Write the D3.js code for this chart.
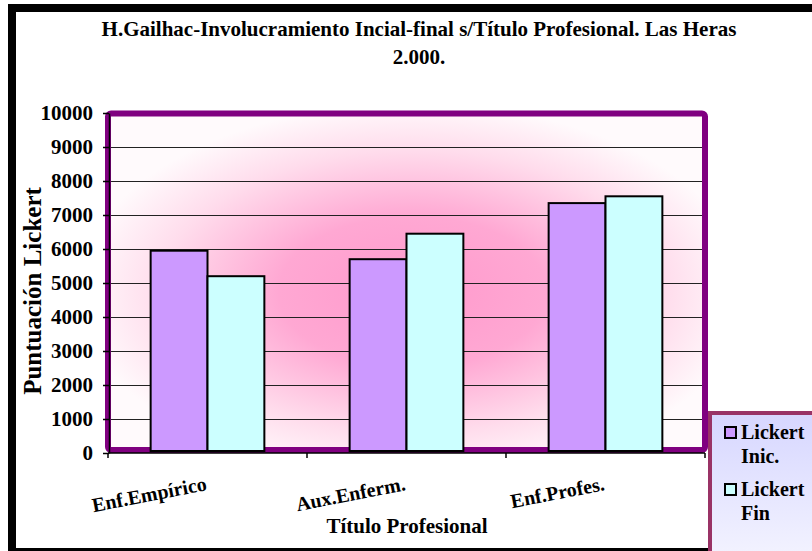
<!DOCTYPE html>
<html>
<head>
<meta charset="utf-8">
<script src="https://cdn.jsdelivr.net/npm/d3@7"></script>
<style>
  body { margin: 0; background: #fff; }
  text { font-family: "Liberation Serif", "Times New Roman", serif; font-weight: bold; fill: #000; }
</style>
</head>
<body>
<div id="vis1"></div>
<script>
const FRAME_WIDTH = 812;
const FRAME_HEIGHT = 551;

// data
const CATEGORIES = ["Enf.Empírico", "Aux.Enferm.", "Enf.Profes."];
const SERIES = ["Lickert Inic.", "Lickert Fin"];
const LICKERT_INIC = [5950, 5700, 7350];
const LICKERT_FIN = [5200, 6450, 7550];
const Y_TICKS = [0, 1000, 2000, 3000, 4000, 5000, 6000, 7000, 8000, 9000, 10000];
const COLORS = ["#cc99ff", "#ccffff"];

const PLOT = {left: 108, right: 705, top: 113, bottom: 453};

const FRAME1 = d3.select("#vis1")
  .append("svg")
    .attr("width", FRAME_WIDTH)
    .attr("height", FRAME_HEIGHT);

const defs = FRAME1.append("defs");
const bg = defs.append("radialGradient")
    .attr("id", "plotbg")
    .attr("cx", "0.51").attr("cy", "0.53")
    .attr("r", "0.56");
bg.append("stop").attr("offset", "0").attr("stop-color", "#ff99cc");
bg.append("stop").attr("offset", "0.4").attr("stop-color", "#ffa8d3");
bg.append("stop").attr("offset", "0.75").attr("stop-color", "#ffdcec");
bg.append("stop").attr("offset", "1").attr("stop-color", "#fffafc");

const lg = defs.append("linearGradient")
    .attr("id", "legbg")
    .attr("x1", 0).attr("y1", 0).attr("x2", 0).attr("y2", 1);
lg.append("stop").attr("offset", "0").attr("stop-color", "#d6d6ff");
lg.append("stop").attr("offset", "1").attr("stop-color", "#f4f4ff");

// outer black frame
FRAME1.append("rect")
  .attr("x", 12).attr("y", 8)
  .attr("width", 830).attr("height", 544)
  .attr("fill", "#fff")
  .attr("stroke", "#000")
  .attr("stroke-width", 8);

// title
FRAME1.append("text")
  .attr("x", 419).attr("y", 36)
  .attr("text-anchor", "middle")
  .attr("font-size", 21)
  .text("H.Gailhac-Involucramiento Incial-final s/Título Profesional. Las Heras");
FRAME1.append("text")
  .attr("x", 419).attr("y", 64)
  .attr("text-anchor", "middle")
  .attr("font-size", 21)
  .text("2.000.");

const xScale = d3.scaleBand()
  .domain(CATEGORIES)
  .range([PLOT.left, PLOT.right]);

const xInner = d3.scaleBand()
  .domain(SERIES)
  .range([0, xScale.bandwidth()])
  .paddingInner(0)
  .paddingOuter(0.75);

const yScale = d3.scaleLinear()
  .domain([0, 10000])
  .range([PLOT.bottom, PLOT.top]);

// plot area with gradient and purple border
FRAME1.append("rect")
  .attr("x", PLOT.left).attr("y", PLOT.top + 0.5)
  .attr("width", PLOT.right - PLOT.left)
  .attr("height", PLOT.bottom - PLOT.top - 3.5)
  .attr("rx", 3)
  .attr("fill", "url(#plotbg)")
  .attr("stroke", "#800080")
  .attr("stroke-width", 6);

// gridlines
FRAME1.append("g")
  .selectAll("line")
  .data(Y_TICKS.filter(d => d > 0 && d < 10000))
  .enter()
  .append("line")
    .attr("x1", PLOT.left + 3).attr("x2", PLOT.right - 3)
    .attr("y1", d => yScale(d) + 0.5).attr("y2", d => yScale(d) + 0.5)
    .attr("stroke", "#222")
    .attr("stroke-width", 1);

// bars
const rows = CATEGORIES.map((c, i) => ({cat: c, vals: [LICKERT_INIC[i], LICKERT_FIN[i]]}));
const groups = FRAME1.append("g")
  .selectAll("g")
  .data(rows)
  .enter()
  .append("g")
    .attr("transform", d => "translate(" + xScale(d.cat) + ",0)");

groups.selectAll("rect")
  .data(d => d.vals.map((v, j) => ({s: SERIES[j], v: v, j: j})))
  .enter()
  .append("rect")
    .attr("x", d => xInner(d.s))
    .attr("y", d => yScale(d.v))
    .attr("width", xInner.bandwidth())
    .attr("height", d => PLOT.bottom - 2 - yScale(d.v))
    .attr("fill", d => COLORS[d.j])
    .attr("stroke", "#000")
    .attr("stroke-width", 2);

// y axis
const yAxis = FRAME1.append("g")
  .attr("transform", "translate(" + (PLOT.left + 1) + ",0)")
  .call(d3.axisLeft(yScale).tickValues(Y_TICKS).tickFormat(d3.format("d"))
    .tickSize(6).tickPadding(10).tickSizeOuter(0));
yAxis.selectAll("text")
  .attr("font-size", 21)
  .style("font-family", "'Liberation Serif', serif")
  .style("font-weight", "bold");
yAxis.selectAll("path, line").attr("stroke", "#000").attr("stroke-width", 1.5);

// x axis
const xAxis = FRAME1.append("g")
  .attr("transform", "translate(0," + PLOT.bottom + ")");
xAxis.append("line")
  .attr("x1", PLOT.left).attr("x2", PLOT.right)
  .attr("stroke", "#000").attr("stroke-width", 1.5);
xAxis.selectAll(".tk")
  .data(CATEGORIES.map(c => xScale(c)).concat([xScale(CATEGORIES[2]) + xScale.step()]))
  .enter()
  .append("line")
    .attr("class", "tk")
    .attr("x1", d => d).attr("x2", d => d)
    .attr("y1", 0).attr("y2", 5)
    .attr("stroke", "#000").attr("stroke-width", 1.5);

xAxis.selectAll(".lbl")
  .data(CATEGORIES)
  .enter()
  .append("text")
    .attr("class", "lbl")
    .attr("text-anchor", "end")
    .attr("font-size", 20)
    .attr("transform", d => "translate(" + (xScale(d) + xScale.bandwidth() / 2) + ",37) rotate(-11)")
    .text(d => d);

// axis titles
FRAME1.append("text")
  .attr("x", 407).attr("y", 533)
  .attr("text-anchor", "middle")
  .attr("font-size", 21)
  .text("Título Profesional");

FRAME1.append("text")
  .attr("transform", "translate(41,291) rotate(-90)")
  .attr("text-anchor", "middle")
  .attr("font-size", 25)
  .text("Puntuación Lickert");

// legend
const legend = FRAME1.append("g");
legend.append("rect")
  .attr("x", 710).attr("y", 413)
  .attr("width", 120).attr("height", 150)
  .attr("fill", "url(#legbg)")
  .attr("stroke", "#993366")
  .attr("stroke-width", 4);

const items = legend.selectAll(".item")
  .data(SERIES)
  .enter()
  .append("g")
    .attr("transform", (d, i) => "translate(0," + (i * 57) + ")");
items.append("rect")
  .attr("x", 725).attr("y", 427)
  .attr("width", 11).attr("height", 11)
  .attr("fill", (d, i) => COLORS[i])
  .attr("stroke", "#000").attr("stroke-width", 2);
items.append("text")
  .attr("x", 741).attr("y", 439)
  .attr("font-size", 20)
  .text(d => d.split(" ")[0]);
items.append("text")
  .attr("x", 741).attr("y", 463)
  .attr("font-size", 20)
  .text(d => d.split(" ")[1]);
</script>
</body>
</html>
